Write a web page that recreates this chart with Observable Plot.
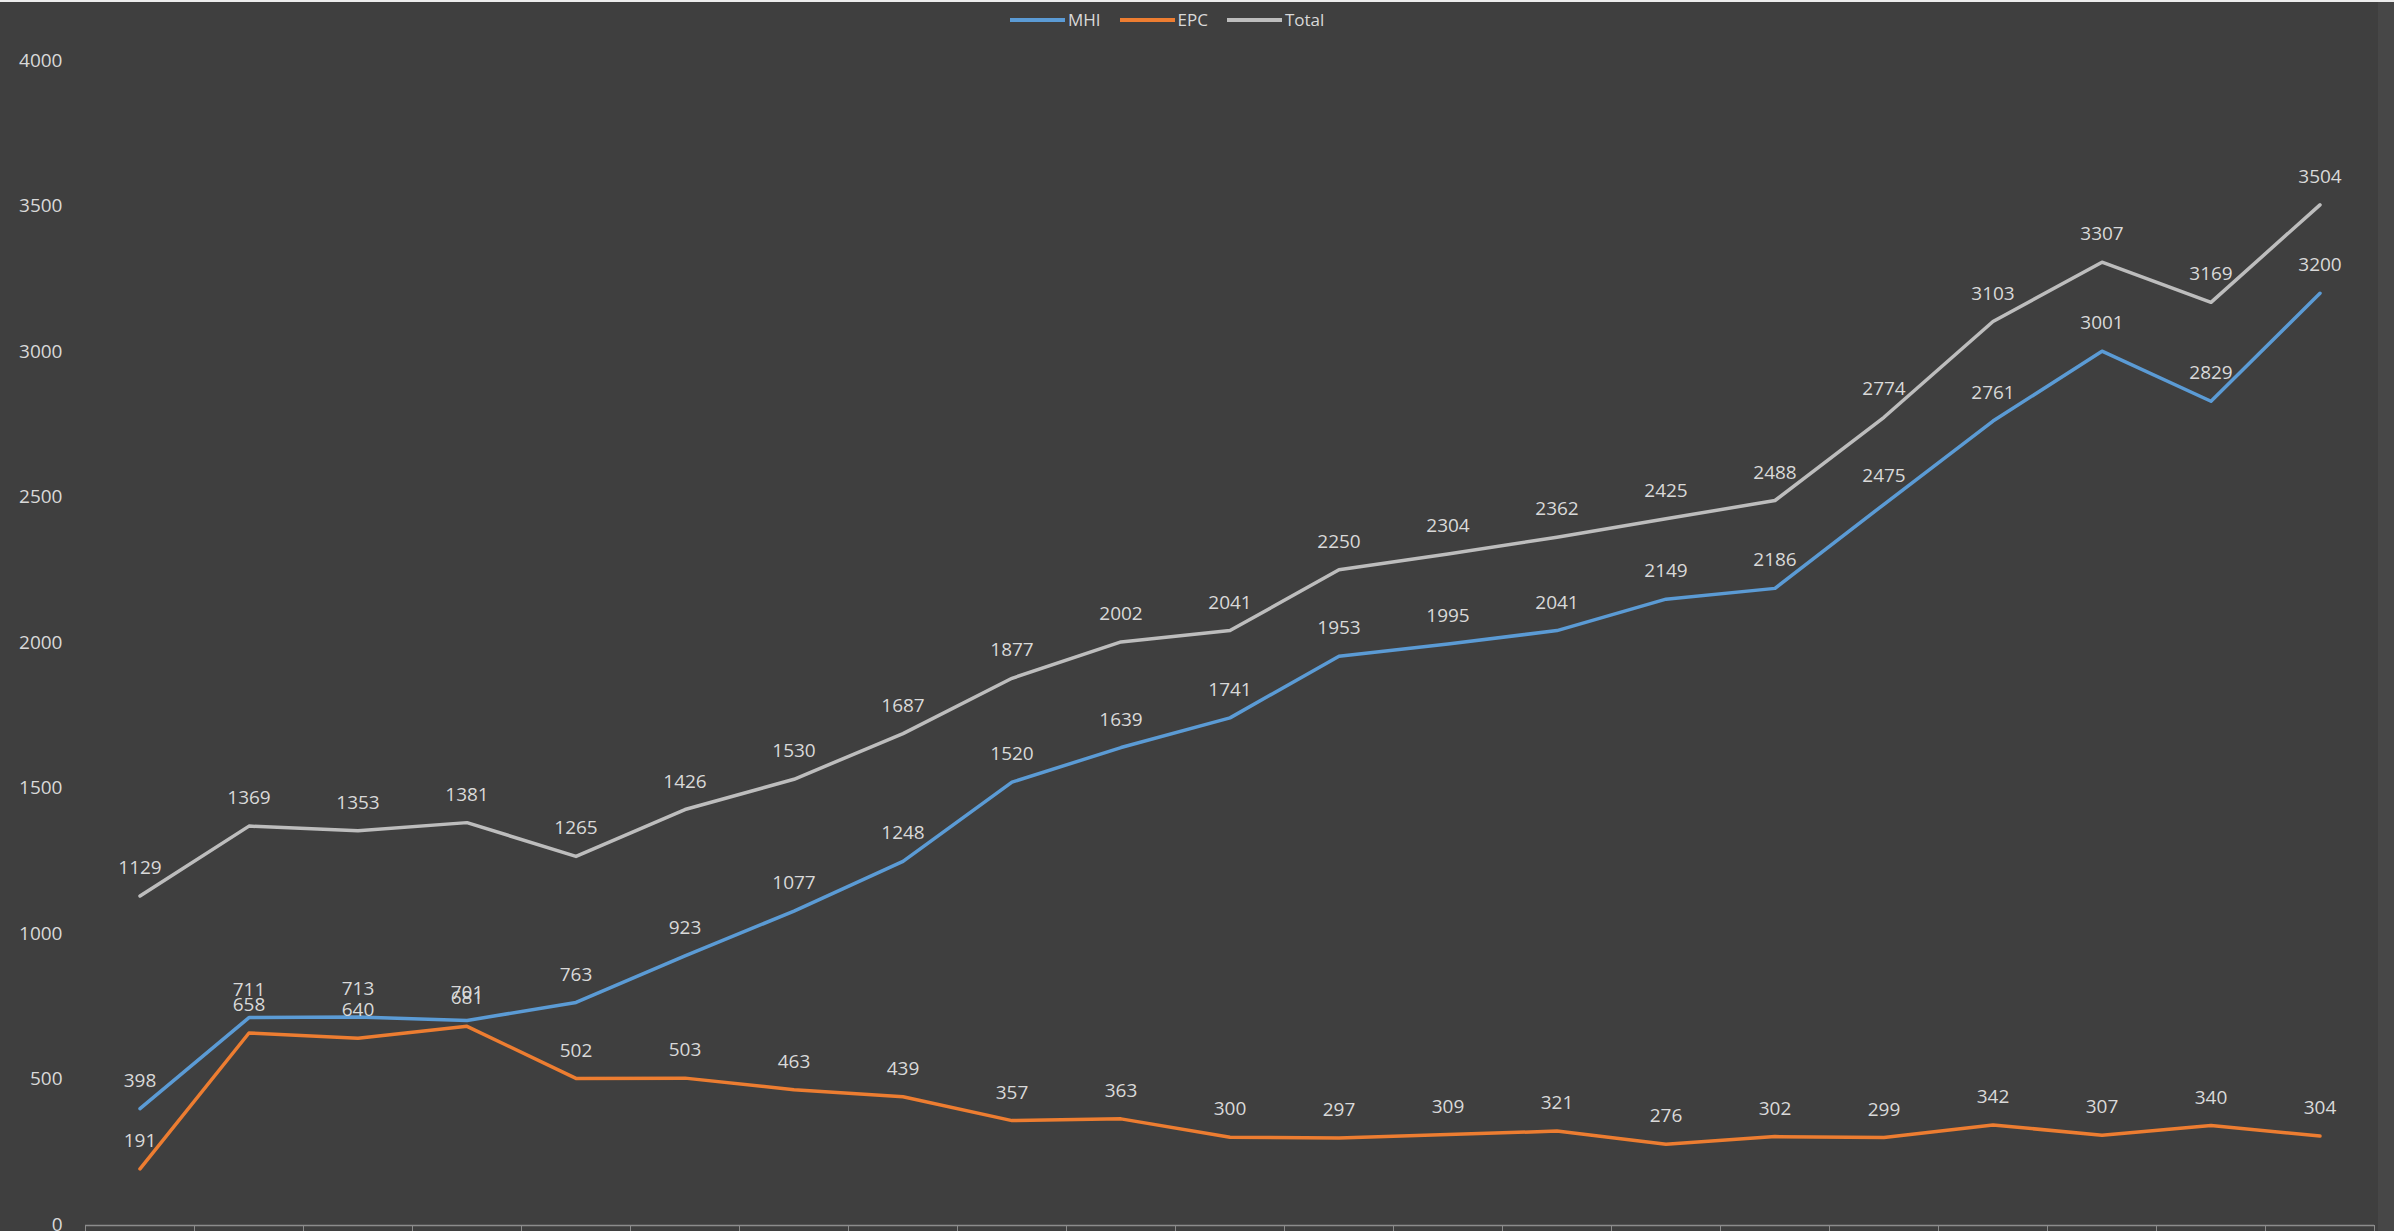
<!DOCTYPE html>
<html>
<head>
<meta charset="utf-8">
<script src="https://cdn.jsdelivr.net/npm/d3@7"></script>
<script src="https://cdn.jsdelivr.net/npm/@observablehq/plot@0.6"></script>
<style>
  html, body { margin: 0; padding: 0; background: #3f3f3f; overflow: hidden; }
  #wrap { position: relative; width: 2394px; height: 1231px; }
  #topline { position: absolute; left: 0; top: 0; width: 2394px; height: 2px; background: #ececec; }
  #edge { position: absolute; left: 2378px; top: 2px; width: 16px; height: 1229px; background: #474747; }
  #legend { position: absolute; left: 1010px; top: 8px; display: flex; align-items: center;
            font-family: "Open Sans", sans-serif; font-size: 17px; color: #d9d9d9; }
  .item { display: flex; align-items: center; margin-right: 19px; }
  .sw { width: 55px; height: 4px; margin-right: 3px; }
</style>
</head>
<body>
<div id="wrap">
  <div id="chart"></div>
  <div id="edge"></div>
  <div id="topline"></div>
  <div id="legend"></div>
</div>
<script>
// Category positions (x-axis labels are cut off in the reference)
const categories = [1, 2, 3, 4, 5, 6, 7, 8, 9, 10, 11, 12, 13, 14, 15, 16, 17, 18, 19, 20, 21];
const seriesNames = ["MHI", "EPC", "Total"];
const mhi   = [398, 711, 713, 701, 763, 923, 1077, 1248, 1520, 1639, 1741, 1953, 1995, 2041, 2149, 2186, 2475, 2761, 3001, 2829, 3200];
const epc   = [191, 658, 640, 681, 502, 503, 463, 439, 357, 363, 300, 297, 309, 321, 276, 302, 299, 342, 307, 340, 304];
const total = [1129, 1369, 1353, 1381, 1265, 1426, 1530, 1687, 1877, 2002, 2041, 2250, 2304, 2362, 2425, 2488, 2774, 3103, 3307, 3169, 3504];
const yTicks = [0, 500, 1000, 1500, 2000, 2500, 3000, 3500, 4000];
const colors = {MHI: "#5b9bd5", EPC: "#ed7d31", Total: "#bdbdbd"};

const valuesBySeries = {MHI: mhi, EPC: epc, Total: total};
const rows = [];
for (const s of seriesNames) {
  valuesBySeries[s].forEach((v, i) => rows.push({series: s, cat: categories[i], pos: i + 0.5, value: v}));
}
const bounds = d3.range(categories.length + 1);

const chart = Plot.plot({
  width: 2394,
  height: 1231,
  marginTop: 60,
  marginBottom: 7,
  marginLeft: 85,
  marginRight: 20,
  style: {background: "transparent", color: "#d9d9d9", fontFamily: "Open Sans, sans-serif", fontSize: "19px"},
  x: {domain: [0, categories.length]},
  y: {domain: [0, 4000]},
  color: {domain: seriesNames, range: seriesNames.map(s => colors[s])},
  marks: [
    Plot.ruleY([0], {stroke: "#8c8c8c", strokeWidth: 1.5, dy: 1}),
    Plot.axisX(bounds, {tickSize: 8, stroke: "#8c8c8c", fill: "none", dy: 1, label: null}),
    Plot.axisY(yTicks, {tickSize: 0, tickPadding: 23, tickFormat: d3.format("d"), fill: "#d9d9d9", fontSize: 19, label: null}),
    Plot.line(rows, {x: "pos", y: "value", z: "series", stroke: "series", strokeWidth: 3.5, strokeLinejoin: "round", strokeLinecap: "round"}),
    Plot.text(rows, {x: "pos", y: "value", text: d => String(d.value), dy: -28, fill: "#d9d9d9", fontSize: 19})
  ]
});
document.getElementById("chart").appendChild(chart);

const legend = document.getElementById("legend");
for (const s of seriesNames) {
  const it = document.createElement("div");
  it.className = "item";
  const sw = document.createElement("div");
  sw.className = "sw";
  sw.style.background = colors[s];
  const tx = document.createElement("span");
  tx.textContent = s;
  it.appendChild(sw);
  it.appendChild(tx);
  legend.appendChild(it);
}
</script>
</body>
</html>
